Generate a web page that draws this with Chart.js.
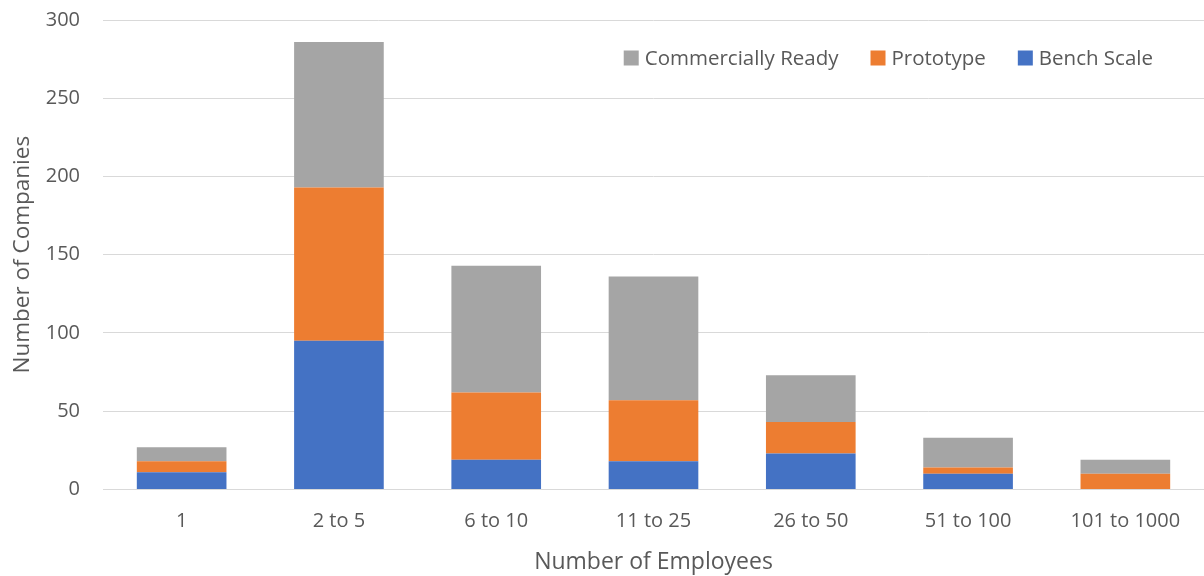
<!DOCTYPE html>
<html>
<head>
<meta charset="utf-8">
<script src="https://cdn.jsdelivr.net/npm/chart.js@4"></script>
<style>
  html, body { margin: 0; padding: 0; background: #fff; overflow: hidden; }
  #wrap { width: 1204px; height: 591px; position: relative; top: -15px; }
</style>
</head>
<body>
<div id="wrap"><canvas id="employeesChart"></canvas></div>
<script>
const categories = ['1', '2 to 5', '6 to 10', '11 to 25', '26 to 50', '51 to 100', '101 to 1000'];
const benchScale = [11, 95, 19, 18, 23, 10, 0];
const prototype = [7, 98, 43, 39, 20, 4, 10];
const commerciallyReady = [9, 93, 81, 79, 30, 19, 9];
const yTicks = [0, 50, 100, 150, 200, 250, 300];

const font = "'Open Sans', 'Liberation Sans', sans-serif";
const textColor = '#595959';

// legend drawn inside the plot area, top right, like the Excel original
const insideLegend = {
    id: 'insideLegend',
    afterDraw(chart) {
        const c = chart.ctx;
        const area = chart.chartArea;
        const items = chart.data.datasets.slice().reverse();
        c.save();
        c.font = "20.5px " + font;
        c.textBaseline = 'middle';
        c.textAlign = 'left';
        const box = 15, gap = 6, spacing = 32;
        const widths = items.map(ds => box + gap + c.measureText(ds.label).width);
        let x = area.right - 51 - widths.reduce((a, b) => a + b, 0) - spacing * (items.length - 1);
        const y = area.top + 38;
        items.forEach((ds, i) => {
            c.fillStyle = ds.backgroundColor;
            c.fillRect(x, y - box / 2, box, box);
            c.fillStyle = textColor;
            c.fillText(ds.label, x + box + gap, y + 1);
            x += widths[i] + spacing;
        });
        c.restore();
    }
};

const ctx = document.getElementById('employeesChart').getContext('2d');
new Chart(ctx, {
    type: 'bar',
    data: {
        labels: categories,
        datasets: [
            { label: 'Bench Scale', data: benchScale, backgroundColor: '#4472C4' },
            { label: 'Prototype', data: prototype, backgroundColor: '#ED7D31' },
            { label: 'Commercially Ready', data: commerciallyReady, backgroundColor: '#A5A5A5' }
        ]
    },
    plugins: [insideLegend],
    options: {
        responsive: true,
        maintainAspectRatio: false,
        animation: false,
        layout: { padding: { top: 0, right: 0, left: 5, bottom: 0 } },
        datasets: { bar: { barPercentage: 0.57, categoryPercentage: 1 } },
        plugins: {
            tooltip: { enabled: false },
            legend: { display: false }
        },
        scales: {
            x: {
                stacked: true,
                grid: { display: false },
                border: { color: '#d9d9d9' },
                ticks: { color: textColor, font: { family: font, size: 20 }, padding: 12 },
                title: {
                    display: true,
                    text: 'Number of Employees',
                    color: textColor,
                    font: { family: font, size: 23 },
                    padding: { top: 3, bottom: 0 }
                }
            },
            y: {
                stacked: true,
                min: 0,
                max: 300,
                afterBuildTicks: (axis) => { axis.ticks = yTicks.map(v => ({ value: v })); },
                afterFit: (axis) => { axis.width = 98; },
                grid: { color: '#d9d9d9', drawTicks: false },
                border: { display: false },
                ticks: { color: textColor, font: { family: font, size: 20 }, padding: 23 },
                title: {
                    display: true,
                    text: 'Number of Companies',
                    color: textColor,
                    font: { family: font, size: 22.5 },
                    padding: { top: 4, bottom: 8 }
                }
            }
        }
    }
});
</script>
</body>
</html>
